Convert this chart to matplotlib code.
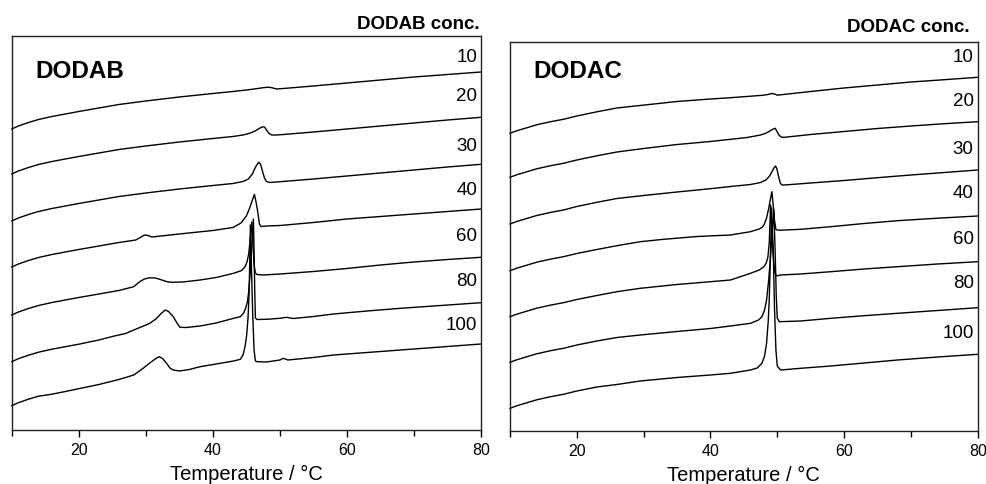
import matplotlib
matplotlib.use("Agg")
import matplotlib.pyplot as plt
from matplotlib.ticker import MultipleLocator

plt.rcParams['font.family'] = ['Liberation Sans', 'DejaVu Sans']

# ---------------- data (heat flow, arbitrary units) ----------------
conc_labels = ['10', '20', '30', '40', '60', '80', '100']

# ---- DODAB panel ----
dodab_T10 = [10, 11, 12.5, 14, 16, 18, 20, 23, 26, 30, 35, 40, 43, 45, 46.5, 47.5, 48.2, 48.8, 49.5,
             50.5, 55, 60, 65, 70, 75, 80]
dodab_Y10 = [301, 304, 307.5, 310.5, 313.5, 316, 318.5, 322, 325.5, 329, 333, 336.5, 338.5, 340, 341.3,
             342.3, 342.8, 342.3, 341, 341.5, 344, 347, 350, 353, 355.5, 358]

dodab_T20 = [10, 11, 12.5, 14, 16, 18, 20, 23, 26, 30, 35, 40, 43, 44.5, 45.6, 46.3, 46.9, 47.4, 47.7,
             48.0, 48.4, 48.8, 49.5, 50.5, 55, 60, 65, 70, 75, 80]
dodab_Y20 = [256, 259, 262.5, 265.5, 268.5, 271, 273.5, 277, 280.5, 284, 288, 291.5, 293.5, 295, 297,
             299, 301.5, 303.2, 303, 300, 296.5, 295, 295, 295.5, 298, 301, 304, 307, 310, 312.7]

dodab_T30 = [10, 11, 12.5, 14, 16, 18, 20, 23, 26, 30, 35, 40, 43, 44.5, 45.3, 45.9, 46.3, 46.6, 46.85,
             47.1, 47.4, 47.7, 48.0, 48.5, 49.5, 55, 60, 65, 70, 75, 80]
dodab_Y30 = [209, 212, 215.5, 218.5, 221.5, 224, 226.5, 230, 233.5, 237, 241, 244.5, 246.5, 248.5, 251,
             256, 262, 265.5, 267.7, 266, 259, 252, 248.5, 247.5, 248, 251, 254, 257, 260, 263, 265.7]

dodab_T40 = [10, 11, 12.5, 14, 16, 18, 20, 23, 26, 28.5, 29.3, 29.8, 30.3, 30.9, 31.6, 35, 40, 43, 44.2,
             45.0, 45.5, 45.85, 46.2, 46.45, 46.7, 46.95, 47.2, 48, 50, 55, 60, 65, 70, 75, 80]
dodab_Y40 = [163, 166, 169.5, 172.5, 175.5, 178, 180.5, 184, 187.5, 190, 193, 195, 194.5, 193, 193.5,
             196, 199.5, 202.5, 207, 214, 222, 229, 235.7, 228, 218, 206, 203.5, 204, 204.5, 207.5,
             211, 213.5, 216, 218.5, 221]

dodab_T60 = [10, 11, 12.5, 14, 16, 18, 20, 23, 26, 28.2, 29.1, 29.8, 30.6, 31.4, 32.1, 33.2, 33.9, 35.5,
             38.1, 40.5, 43.1, 44.3, 44.8, 45.1, 45.35, 45.6, 45.8, 45.95, 46.15, 46.35, 46.6, 47.5, 50,
             55, 60, 65, 70, 75, 80]
dodab_Y60 = [115, 118, 121.5, 124.5, 127.5, 130, 132.5, 136, 139.5, 143.3, 148.3, 151, 152.3, 152,
             150.7, 148.2, 147.7, 148, 150, 152.5, 156.7, 159.5, 163.3, 168, 176, 192, 208, 190, 165,
             157, 155.5, 155, 156, 158.5, 161.5, 165, 168, 170.5, 172.7]

dodab_T80 = [10, 11, 12.5, 14, 16, 18, 20, 23, 25, 27, 28.2, 29.5, 30.6, 31.5, 32.3, 32.9, 33.4, 34.1,
             34.7, 35.1, 36, 38.1, 40.5, 43.1, 44.1, 44.6, 44.9, 45.15, 45.35, 45.6, 45.85, 46.05,
             46.15, 46.25, 46.35, 46.6, 48, 50, 51, 52, 55, 58, 63, 68, 74, 80]
dodab_Y80 = [68.3, 71.3, 74.8, 77.8, 80.8, 83.3, 85.8, 90, 93.5, 96.5, 100, 103.5, 106.7, 111, 116.5,
             120, 118.5, 113.3, 106.5, 102.7, 102.5, 104, 107, 111.7, 113.3, 117, 122, 128, 138, 160,
             190, 211, 180, 140, 112, 110.5, 110.7, 111.7, 112.7, 111.5, 113.5, 116, 119, 121.7,
             124.5, 127.3]

dodab_T100 = [10, 11, 12.5, 14, 16, 18, 20, 23, 25.7, 27, 28.2, 29.6, 30.8, 31.5, 32.0, 32.5, 33.1,
              33.6, 34.1, 35, 36.5, 38.1, 40.5, 43.1, 44.1, 44.5, 44.8, 45.05, 45.25, 45.4, 45.5,
              45.6, 45.75, 45.95, 46.15, 46.35, 46.6, 48, 50, 50.5, 51.2, 55, 58, 63, 68, 74, 80]
dodab_Y100 = [24.3, 27.3, 30.8, 33.8, 35.8, 38.5, 41.3, 45.5, 50, 52.5, 55, 61.7, 68, 71.5, 73.3, 71.5,
              66.7, 62, 60, 59, 60.5, 63.3, 66, 69, 70.7, 75, 83.3, 95, 112, 135, 165, 205, 165, 115,
              80, 69, 68.3, 68, 70, 71.7, 70, 72.5, 75, 77.5, 80, 83, 86]

# ---- DODAC panel ----
dodac_T10 = [10, 11, 12.5, 14, 16, 18, 20, 23, 26, 30, 35, 40, 43, 46, 47.8, 48.6, 49.2, 49.6, 50.0,
             50.5, 55, 60, 65, 70, 75, 80]
dodac_Y10 = [297.7, 300.2, 303.2, 306.2, 309.2, 311.7, 315, 319.2, 323, 325.9, 329.5, 332, 333.3,
             334.8, 335.7, 336.5, 337.5, 337, 335.8, 336.2, 339.5, 343, 346, 349, 351.3, 353.7]

dodac_T20 = [10, 11, 12.5, 14, 16, 18, 20, 23, 26, 30, 35, 40, 43, 45.5, 47.5, 48.3, 48.9, 49.4, 49.7,
             50.0, 50.3, 50.7, 51.2, 55, 60, 65, 70, 75, 80]
dodac_Y20 = [253.7, 256.2, 259.2, 262.2, 265.2, 267.7, 271, 275.2, 279, 282.5, 286.5, 289.5, 291.7,
             293.5, 296, 297.8, 300, 302, 302.7, 299, 295.5, 293.7, 293.8, 296.5, 299.5, 302.5, 305,
             307.3, 309.3]

dodac_T30 = [10, 11, 12.5, 14, 16, 18, 20, 23, 26, 30, 35, 40, 43, 46, 47.5, 48.3, 48.8, 49.2, 49.5,
             49.75, 49.95, 50.2, 50.45, 50.7, 51.5, 55, 60, 65, 70, 75, 80]
dodac_Y30 = [207, 209.5, 212.5, 215.5, 218.5, 221, 224.5, 228.7, 232.5, 235.5, 239, 242.3, 244.5, 246.5,
             248.5, 251, 254.5, 259.3, 263, 265, 262, 254.3, 248, 246, 246.2, 248, 250.5, 253.3, 256,
             258.5, 261]

dodac_T40 = [10, 11, 12.5, 14, 16, 18, 20, 23, 26, 29.5, 33, 38, 43, 46, 47.3, 47.8, 48.1, 48.4, 48.7,
             48.95, 49.2, 49.4, 49.6, 49.8, 50.0, 50.5, 53.5, 58, 63, 68, 74, 80]
dodac_Y40 = [160.3, 162.8, 165.8, 168.8, 171.8, 174.3, 177.5, 181.5, 185.3, 189.3, 191.7, 194.5, 196,
             199.3, 202, 204, 207.5, 213, 222, 231, 239.3, 225, 210, 201.5, 201, 200.8, 201.7, 204.3,
             207.5, 210.3, 212.8, 215]

dodac_T60 = [10, 11, 12.5, 14, 16, 18, 20, 23, 26, 29.5, 35, 40, 43, 46, 47.3, 48, 48.35, 48.6, 48.8,
             49.0, 49.2, 49.4, 49.6, 49.9, 50.5, 53.5, 58, 63, 68, 74, 80]
dodac_Y60 = [114.3, 116.8, 119.8, 122.8, 125.8, 128.3, 131.5, 135.5, 139.3, 142.7, 146.5, 149.3, 151,
             157.7, 161, 164.3, 168, 174, 188, 226, 200, 175, 159, 155, 156, 157, 159.3, 162, 164.3,
             167, 169.3]

dodac_T80 = [10, 11, 12.5, 14, 16, 18, 20, 23, 26, 29.5, 35, 40, 43, 46, 47.2, 47.7, 48.1, 48.4, 48.7,
             48.9, 49.2, 49.5, 49.7, 49.85, 50.0, 50.3, 53.5, 58, 63, 68, 74, 80]
dodac_Y80 = [68.7, 71.2, 74.2, 77.2, 80.2, 82.7, 86, 90, 93.5, 96, 99.5, 102.5, 105, 107.7, 111, 114.3,
             121, 131, 150, 166, 195, 221, 175, 135, 113, 109.3, 110, 112.7, 115.3, 117.7, 120.5,
             123.3]

dodac_T100 = [10, 11, 12.5, 14, 16, 18, 20, 23, 26, 29.5, 35, 40, 43, 46, 47.0, 47.7, 48.1, 48.4, 48.65,
              48.8, 49.0, 49.15, 49.4, 49.6, 49.8, 50.0, 50.5, 53.5, 58, 63, 68, 74, 80]
dodac_Y100 = [22.7, 25.2, 28.2, 31.2, 34.2, 36.7, 40, 44, 46.5, 50, 53.5, 56, 57.7, 61, 63, 67.7, 75,
              87.7, 110, 131, 180, 223, 180, 120, 81, 65, 61, 62.7, 65, 68, 71, 74, 76.7]

dodab_curves = [(dodab_T10, dodab_Y10), (dodab_T20, dodab_Y20), (dodab_T30, dodab_Y30),
                (dodab_T40, dodab_Y40), (dodab_T60, dodab_Y60), (dodab_T80, dodab_Y80),
                (dodab_T100, dodab_Y100)]
dodac_curves = [(dodac_T10, dodac_Y10), (dodac_T20, dodac_Y20), (dodac_T30, dodac_Y30),
                (dodac_T40, dodac_Y40), (dodac_T60, dodac_Y60), (dodac_T80, dodac_Y80),
                (dodac_T100, dodac_Y100)]

# ---------------- figure ----------------
W, H = 987, 484
fig = plt.figure(figsize=(W / 100, H / 100), dpi=100)

def px_axes(x0, x1, ytop, ybot):
    return fig.add_axes([x0 / W, (H - ybot) / H, (x1 - x0) / W, (ybot - ytop) / H])

ax1 = px_axes(11.7, 481, 36, 430)
ax2 = px_axes(510, 977.7, 42, 431)

def style(ax, ymax):
    ax.set_xlim(10, 80)
    ax.set_ylim(0, ymax)
    ax.set_yticks([])
    ax.xaxis.set_major_locator(MultipleLocator(20))
    ax.xaxis.set_minor_locator(MultipleLocator(10))
    ax.tick_params(axis='x', which='major', direction='out', length=5, width=1,
                   labelsize=11.5, pad=4.5, colors='black')
    ax.tick_params(axis='x', which='minor', direction='out', length=4, width=1)
    for s in ax.spines.values():
        s.set_linewidth(1.0)
        s.set_color('#222222')
    ax.set_xlabel('Temperature / \u00b0C', fontsize=14.5, labelpad=4.5)

style(ax1, 394)
style(ax2, 389)

for T, Y in dodab_curves:
    ax1.plot(T, Y, color='black', lw=1.0, clip_on=False, solid_joinstyle='round')
for T, Y in dodac_curves:
    ax2.plot(T, Y, color='black', lw=1.0, clip_on=False, solid_joinstyle='round')

# concentration labels
left_lab_y = [373, 334, 284, 240, 194, 149, 104]
right_lab_y = [374, 329, 281, 237, 191, 147, 97]
for lab, y in zip(conc_labels, left_lab_y):
    ax1.text(79.45, y, lab, ha='right', va='center', fontsize=13.5)
for lab, y in zip(conc_labels, right_lab_y):
    ax2.text(79.4, y, lab, ha='right', va='center', fontsize=13.5)

ax1.text(13.6, 359, 'DODAB', ha='left', va='center', fontsize=17.5, fontweight='bold')
ax2.text(13.45, 360, 'DODAC', ha='left', va='center', fontsize=17.5, fontweight='bold')

ax1.annotate('DODAB conc.', xy=(1, 1), xycoords='axes fraction', xytext=(-1, 6.7),
             textcoords='offset pixels', ha='right', va='baseline', fontsize=13.5,
             fontweight='bold')
ax2.annotate('DODAC conc.', xy=(1, 1), xycoords='axes fraction', xytext=(-7.7, 9.7),
             textcoords='offset pixels', ha='right', va='baseline', fontsize=13.5,
             fontweight='bold')

fig.savefig('out.png', dpi=100, facecolor='white')
